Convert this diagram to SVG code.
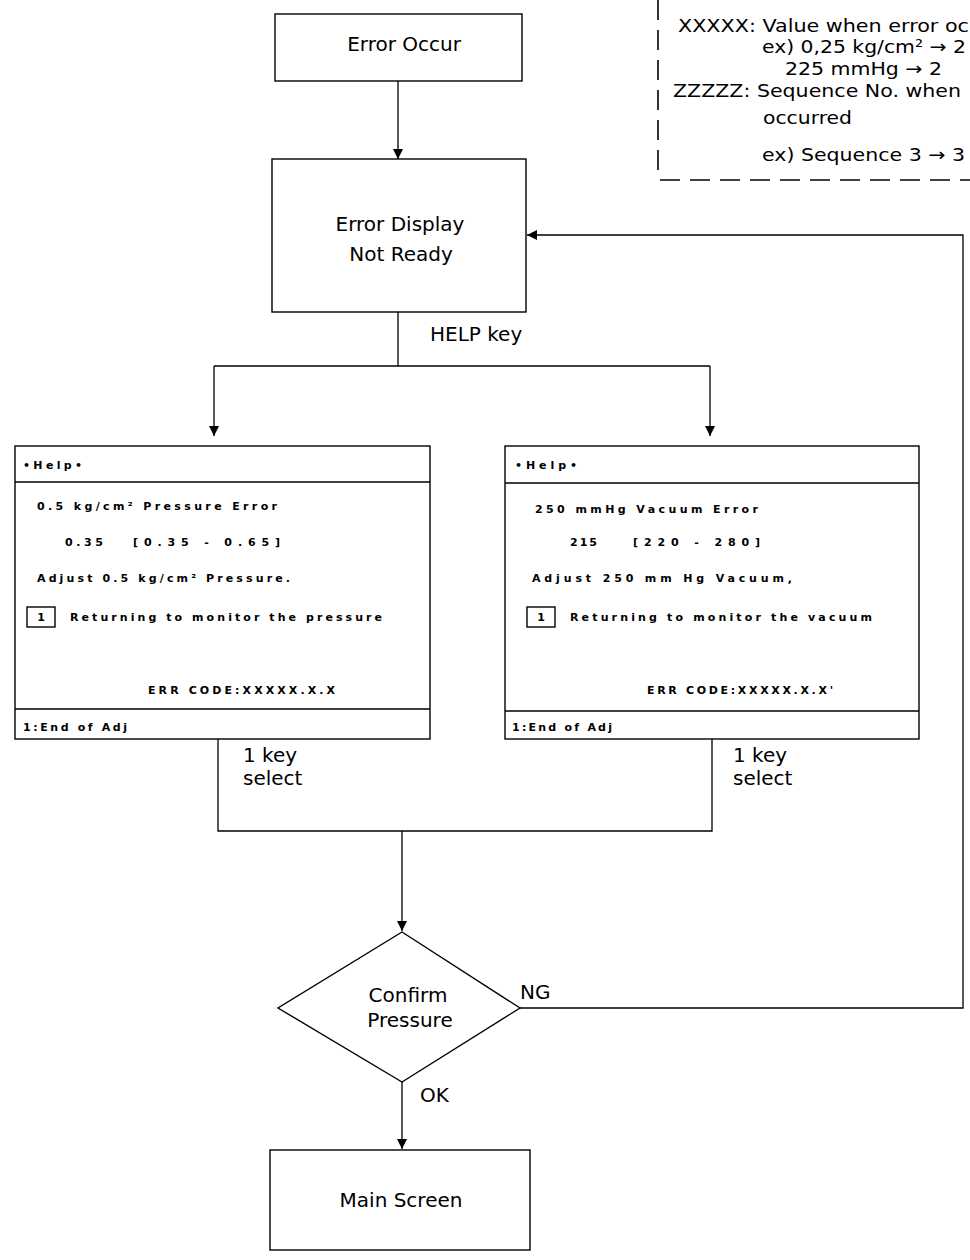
<svg xmlns="http://www.w3.org/2000/svg" width="970" height="1260" viewBox="0 0 970 1260">
<style>
.box{fill:#fff;stroke:#000;stroke-width:1.4}
.ln{fill:none;stroke:#000;stroke-width:1.3}
.dash{fill:none;stroke:#000;stroke-width:1.6;stroke-dasharray:20 10}
.lbl{font-family:"DejaVu Sans","Liberation Sans",sans-serif;font-size:20px;fill:#000}
.ctr{text-anchor:middle}
.lg{font-family:"DejaVu Sans","Liberation Sans",sans-serif;font-size:18px;fill:#000}
.sc{font-family:"DejaVu Sans","Liberation Sans",sans-serif;font-size:11px;font-weight:bold;fill:#000}
</style>
<defs>
<marker id="ah" viewBox="0 0 10 10" refX="10" refY="5" markerWidth="10" markerHeight="10" markerUnits="userSpaceOnUse" orient="auto">
<path d="M0,0 L10,5 L0,10 Z" fill="#000"/>
</marker>
</defs>

<g id="legend">
<path class="dash" d="M658,0 V178"/>
<path class="dash" d="M660,180 H970"/>
<text class="lg" x="678" y="32" textLength="291" lengthAdjust="spacingAndGlyphs">XXXXX: Value when error oc</text>
<text class="lg" x="762" y="53" textLength="204" lengthAdjust="spacingAndGlyphs">ex) 0,25 kg/cm² → 2</text>
<text class="lg" x="785" y="75" textLength="157" lengthAdjust="spacingAndGlyphs">225 mmHg → 2</text>
<text class="lg" x="673" y="97" textLength="288" lengthAdjust="spacingAndGlyphs">ZZZZZ: Sequence No. when</text>
<text class="lg" x="763" y="124" textLength="89" lengthAdjust="spacingAndGlyphs">occurred</text>
<text class="lg" x="762" y="161" textLength="203" lengthAdjust="spacingAndGlyphs">ex) Sequence 3 → 3</text>
</g>

<g id="connectors">
<path class="ln" d="M398,81 V159" marker-end="url(#ah)"/>
<path class="ln" d="M398,312 V366 M214,366 H710"/>
<path class="ln" d="M214,366 V436" marker-end="url(#ah)"/>
<path class="ln" d="M710,366 V436" marker-end="url(#ah)"/>
<path class="ln" d="M218,739 V831 H712 V739"/>
<path class="ln" d="M402,831 V931" marker-end="url(#ah)"/>
<path class="ln" d="M402,1082 V1149" marker-end="url(#ah)"/>
<path class="ln" d="M520,1008 H963 V235 H527" marker-end="url(#ah)"/>
<text class="lbl" x="430" y="341">HELP key</text>
<text class="lbl" x="243" y="762">1 key</text>
<text class="lbl" x="243" y="785">select</text>
<text class="lbl" x="733" y="762">1 key</text>
<text class="lbl" x="733" y="785">select</text>
<text class="lbl" x="520" y="999">NG</text>
<text class="lbl" x="420" y="1102">OK</text>
</g>

<g id="error-occur">
<rect class="box" x="275" y="14" width="247" height="67"/>
<text class="lbl ctr" x="404" y="51">Error Occur</text>
</g>

<g id="error-display">
<rect class="box" x="272" y="159" width="254" height="153"/>
<text class="lbl ctr" x="400" y="231">Error Display</text>
<text class="lbl ctr" x="401" y="261">Not Ready</text>
</g>

<g id="help-pressure">
<rect class="box" x="15" y="446" width="415" height="293"/>
<path class="ln" d="M15,482 H430 M15,709 H430"/>
<text class="sc" x="23" y="469" textLength="59" lengthAdjust="spacing">•Help•</text>
<text class="sc" x="37" y="510" textLength="240" lengthAdjust="spacing">0.5 kg/cm² Pressure Error</text>
<text class="sc" x="65" y="546" textLength="38" lengthAdjust="spacing">0.35</text>
<text class="sc" x="133" y="546" textLength="147" lengthAdjust="spacing">[0.35 - 0.65]</text>
<text class="sc" x="37" y="582" textLength="253" lengthAdjust="spacing">Adjust 0.5 kg/cm² Pressure.</text>
<rect class="box" x="27" y="607" width="28" height="20"/>
<text class="sc ctr" x="41" y="621">1</text>
<text class="sc" x="70" y="621" textLength="312" lengthAdjust="spacing">Returning to monitor the pressure</text>
<text class="sc" x="148" y="694" textLength="187" lengthAdjust="spacing">ERR CODE:XXXXX.X.X</text>
<text class="sc" x="23" y="731" textLength="104" lengthAdjust="spacing">1:End of Adj</text>
</g>

<g id="help-vacuum">
<rect class="box" x="505" y="446" width="414" height="293"/>
<path class="ln" d="M505,483 H919 M505,711 H919"/>
<text class="sc" x="515" y="469" textLength="62" lengthAdjust="spacing">•Help•</text>
<text class="sc" x="535" y="513" textLength="223" lengthAdjust="spacing">250 mmHg Vacuum Error</text>
<text class="sc" x="570" y="546" textLength="27" lengthAdjust="spacing">215</text>
<text class="sc" x="633" y="546" textLength="127" lengthAdjust="spacing">[220 - 280]</text>
<text class="sc" x="532" y="582" textLength="260" lengthAdjust="spacing">Adjust 250 mm Hg Vacuum,</text>
<rect class="box" x="527" y="607" width="28" height="20"/>
<text class="sc ctr" x="541" y="621">1</text>
<text class="sc" x="570" y="621" textLength="302" lengthAdjust="spacing">Returning to monitor the vacuum</text>
<text class="sc" x="647" y="694" textLength="186" lengthAdjust="spacing">ERR CODE:XXXXX.X.X'</text>
<text class="sc" x="512" y="731" textLength="100" lengthAdjust="spacing">1:End of Adj</text>
</g>

<g id="confirm-pressure">
<path class="box" d="M402,932 L520,1008 L402,1082 L278,1008 Z"/>
<text class="lbl ctr" x="408" y="1002">Confirm</text>
<text class="lbl ctr" x="410" y="1027">Pressure</text>
</g>

<g id="main-screen">
<rect class="box" x="270" y="1150" width="260" height="100"/>
<text class="lbl ctr" x="401" y="1207">Main Screen</text>
</g>
</svg>
